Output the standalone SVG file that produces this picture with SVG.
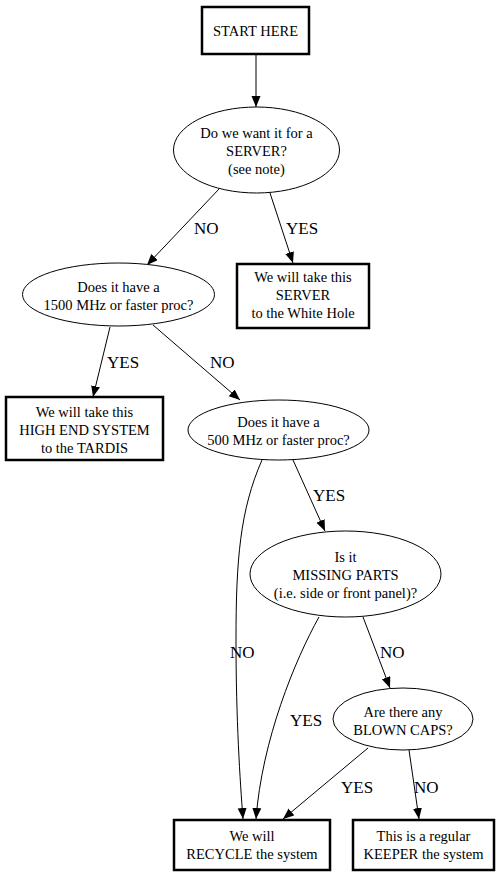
<svg xmlns="http://www.w3.org/2000/svg" width="504" height="876" viewBox="0 0 504 876">
<style>
text{fill:#000}
.n{font-size:14.5px;text-anchor:middle}
.l{font-size:17px}
.box{fill:#fff;stroke:#000;stroke-width:2.5}
.ell{fill:#fff;stroke:#000;stroke-width:1}
.e{fill:none;stroke:#000;stroke-width:1;marker-end:url(#ah)}
</style>
<defs>
<marker id="ah" markerUnits="userSpaceOnUse" markerWidth="12" markerHeight="10" refX="11" refY="4.5" orient="auto">
<path d="M0,0 L11,4.5 L0,9 Z" fill="#000"/>
</marker>
</defs>
<rect width="504" height="876" fill="#fff"/>
<g font-family="'Liberation Serif', 'DejaVu Serif', serif">
<g id="edges">
<path class="e" d="M256,54 L256,107"/>
<path class="e" d="M219,189 L147,265"/>
<path class="e" d="M270,193 L293,263"/>
<path class="e" d="M110,327 L93,397"/>
<path class="e" d="M153,325 L240,400"/>
<path class="e" d="M293,460 L325,531"/>
<path class="e" d="M262,460 C240,510 236,560 236,640 C236,720 240,780 243,819"/>
<path class="e" d="M319,617 C295,660 262,740 256,819"/>
<path class="e" d="M363,617 L390,688"/>
<path class="e" d="M368,748 L283,819"/>
<path class="e" d="M409,750 L419,819"/>
<text class="l" x="194" y="234">NO</text>
<text class="l" x="286" y="234">YES</text>
<text class="l" x="107" y="368">YES</text>
<text class="l" x="210" y="368">NO</text>
<text class="l" x="313" y="501">YES</text>
<text class="l" x="230" y="658">NO</text>
<text class="l" x="380" y="658">NO</text>
<text class="l" x="290" y="726">YES</text>
<text class="l" x="341" y="793">YES</text>
<text class="l" x="414" y="793">NO</text>
</g>
<g id="start">
<rect class="box" x="202" y="7" width="107" height="47"/>
<text class="n" x="255.5" y="36">START HERE</text>
</g>
<g id="server_q">
<ellipse class="ell" cx="256.5" cy="150" rx="83" ry="43"/>
<text class="n" x="256.5" y="138">Do we want it for a</text>
<text class="n" x="256.5" y="156">SERVER?</text>
<text class="n" x="256.5" y="174">(see note)</text>
</g>
<g id="white_hole">
<rect class="box" x="237" y="264" width="132" height="64"/>
<text class="n" x="303" y="282">We will take this</text>
<text class="n" x="303" y="300">SERVER</text>
<text class="n" x="303" y="318">to the White Hole</text>
</g>
<g id="q1500">
<ellipse class="ell" cx="118.5" cy="294.5" rx="96" ry="31.5"/>
<text class="n" x="118.5" y="292">Does it have a</text>
<text class="n" x="118.5" y="310">1500 MHz or faster proc?</text>
</g>
<g id="tardis">
<rect class="box" x="6" y="397" width="157" height="63"/>
<text class="n" x="84.5" y="417">We will take this</text>
<text class="n" x="84.5" y="435">HIGH END SYSTEM</text>
<text class="n" x="84.5" y="453">to the TARDIS</text>
</g>
<g id="q500">
<ellipse class="ell" cx="278.5" cy="430" rx="90.5" ry="30"/>
<text class="n" x="278.5" y="427">Does it have a</text>
<text class="n" x="278.5" y="445">500 MHz or faster proc?</text>
</g>
<g id="missing">
<ellipse class="ell" cx="345.5" cy="574" rx="95.5" ry="43"/>
<text class="n" x="345.5" y="562">Is it</text>
<text class="n" x="345.5" y="580">MISSING PARTS</text>
<text class="n" x="345.5" y="598">(i.e. side or front panel)?</text>
</g>
<g id="caps">
<ellipse class="ell" cx="403" cy="719" rx="70" ry="31"/>
<text class="n" x="403" y="717">Are there any</text>
<text class="n" x="403" y="735">BLOWN CAPS?</text>
</g>
<g id="recycle">
<rect class="box" x="174" y="820" width="156" height="50"/>
<text class="n" x="252" y="841">We will</text>
<text class="n" x="252" y="859">RECYCLE the system</text>
</g>
<g id="keeper">
<rect class="box" x="353" y="820" width="141" height="50"/>
<text class="n" x="423.5" y="841">This is a regular</text>
<text class="n" x="423.5" y="859">KEEPER the system</text>
</g>
</g>
</svg>
